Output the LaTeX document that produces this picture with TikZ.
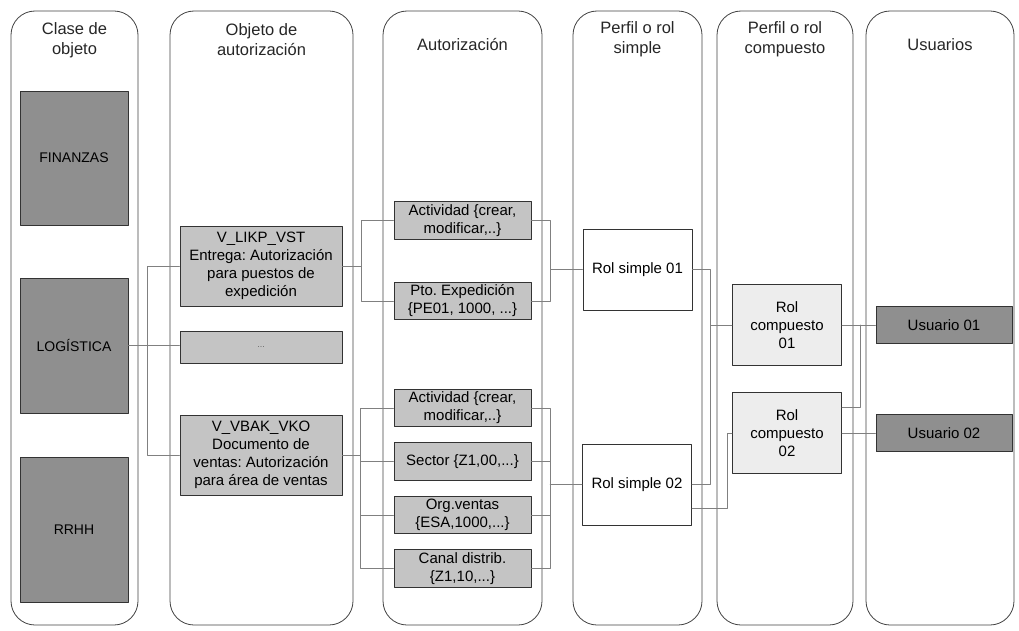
\documentclass[tikz,border=0pt]{standalone}
\usepackage{fontspec}
\setmainfont{Liberation Sans}
\frenchspacing
\begin{document}
\begin{tikzpicture}[x=1pt,y=-1pt,line cap=round,line join=round,
  every node/.style={inner sep=0pt,align=center,font=\fontsize{15}{18}\selectfont},
  colbox/.style={draw=black!75,line width=0.8pt,rounded corners=24pt},
  headtext/.style={font=\fontsize{16.5}{20}\selectfont,text=black!85},
  darkbox/.style={draw=black!80,line width=0.9pt,fill=black!44,minimum width=108pt,
    font=\fontsize{14}{17}\selectfont},
  greybox/.style={draw=black!80,line width=0.9pt,fill=black!23,minimum width=162pt,minimum height=80pt},
  authbox/.style={draw=black!80,line width=0.9pt,fill=black!23,minimum width=137pt,minimum height=37.5pt},
  rolbox/.style={draw=black!80,line width=0.9pt,fill=white,minimum width=109pt,minimum height=81pt},
  userbox/.style={draw=black!80,line width=0.9pt,fill=black!44,minimum width=136pt,minimum height=37.5pt},
  link/.style={draw=black!50,line width=0.6pt}]
  \useasboundingbox (0,0) rectangle (1019,631);
  \foreach \xa/\xb in {11/138,170/353,383/542,573/702,717/853,866/1014}
    \draw[colbox] (\xa,11) rectangle (\xb,625);

  \node[headtext] (hclase) at (74.5,40) {Clase de\\objeto};
  \node[headtext] (hobjeto) at (261.5,40) {Objeto de\\autorización};
  \node[headtext] (hautor) at (462.5,45) {Autorización};
  \node[headtext] (hsimple) at (637.5,39) {Perfil o rol\\simple};
  \node[headtext] (hcomp) at (785,39) {Perfil o rol\\compuesto};
  \node[headtext] (husers) at (940,45) {Usuarios};

  \node[darkbox,minimum height=134pt] (fin) at (74,158) {FINANZAS};
  \node[darkbox,minimum height=135pt] (logis) at (74,345.5) {LOGÍSTICA};
  \node[darkbox,minimum height=145pt] (rrhh) at (74,529.5) {RRHH};

  \node[greybox] (likp) at (261,266) {V\_LIKP\_VST\\Entrega: Autorización\\para puestos de\\expedición};
  \node[greybox,minimum height=32pt,font=\fontsize{9}{10}\selectfont,text=black!60] (dots) at (261,347) {...};
  \node[greybox] (vbak) at (261,455) {V\_VBAK\_VKO\\Documento de\\ventas: Autorización\\para área de ventas};

  \node[authbox] (act1) at (462.5,220.5) {Actividad \{crear,\\modificar,..\}};
  \node[authbox] (pto) at (462.5,301) {Pto. Expedición\\\{PE01, 1000, ...\}};
  \node[authbox] (act2) at (462.5,408) {Actividad \{crear,\\modificar,..\}};
  \node[authbox] (sect) at (462.5,461.5) {Sector \{Z1,00,...\}};
  \node[authbox] (orgv) at (462.5,515) {Org.ventas\\\{ESA,1000,...\}};
  \node[authbox] (canal) at (462.5,568.5) {Canal distrib.\\\{Z1,10,...\}};

  \node[rolbox] (rs1) at (637.5,269.5) {Rol simple 01};
  \node[rolbox] (rs2) at (637,484.5) {Rol simple 02};
  \node[rolbox,fill=black!7] (rc1) at (787,325) {Rol\\compuesto\\01};
  \node[rolbox,fill=black!7] (rc2) at (787,433) {Rol\\compuesto\\02};

  \node[userbox] (us1) at (944,325) {Usuario 01};
  \node[userbox] (us2) at (944,433) {Usuario 02};

  % clase de objeto -> objeto de autorizacion
  \coordinate (j1) at ([xshift=19pt]logis.east);
  \draw[link] (logis.east) -- (j1) |- (likp.west);
  \draw[link] (j1) |- (vbak.west);
  \draw[link] (j1) -- (logis.east -| dots.west);

  % objeto de autorizacion -> autorizacion
  \draw[link] (likp.east) -- ++(19,0) coordinate (j2);
  \draw[link] (j2) |- (act1.west);
  \draw[link] (j2) |- (pto.west);
  \draw[link] (vbak.east) -- ++(18,0) coordinate (j3);
  \foreach \n in {act2,sect,orgv,canal}
    \draw[link] (j3) |- (\n.west);

  % autorizacion -> rol simple
  \coordinate (j4) at ([xshift=-32pt]rs1.west);
  \draw[link] (act1.east) -| (j4) -- (rs1.west);
  \draw[link] (pto.east) -| (j4);
  \coordinate (j5) at ([xshift=-32pt]rs2.west);
  \foreach \n in {act2,sect,orgv,canal}
    \draw[link] (\n.east) -| (j5);
  \draw[link] (j5) -- (rs2.west);

  % rol simple -> rol compuesto
  \coordinate (j6) at ([xshift=-22pt]rc1.west);
  \draw[link] (rs1.east) -| (j6) -- (rc1.west);
  \draw[link] (rs2.east) -| (j6);
  \coordinate (j7) at ([xshift=-5pt]rc2.west);
  \draw[link] ([yshift=-23.5pt]rs2.east) -| (j7) -- (rc2.west);

  % rol compuesto -> usuarios
  \coordinate (j8) at ([xshift=-15pt]us1.west);
  \draw[link] (rc1.east) -- (us1.west);
  \draw[link] ([yshift=25.5pt]rc2.east) -| (j8);
  \draw[link] (rc2.east) -- (us2.west);
\end{tikzpicture}
\end{document}
